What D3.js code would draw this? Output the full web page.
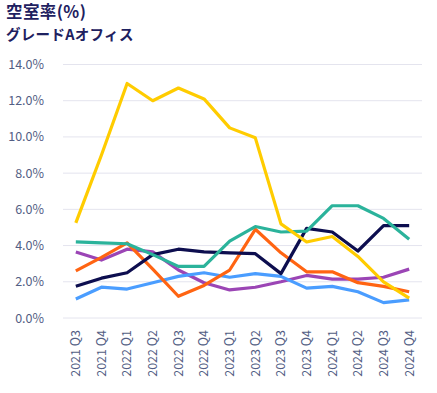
<!DOCTYPE html>
<html>
<head>
<meta charset="utf-8">
<script src="https://cdn.jsdelivr.net/npm/d3@7"></script>
<style>
  body { margin: 0; background: #fff; }
  text { font-family: "Noto Sans CJK JP", "Noto Sans", sans-serif; }
</style>
</head>
<body>
<div id="chart"></div>
<script>
const quarters = ["2021 Q3", "2021 Q4", "2022 Q1", "2022 Q2", "2022 Q3", "2022 Q4",
  "2023 Q1", "2023 Q2", "2023 Q3", "2023 Q4", "2024 Q1", "2024 Q2", "2024 Q3", "2024 Q4"];
const yTicks = [0, 2, 4, 6, 8, 10, 12, 14];

const yellowSeries = [5.25, 9.0, 12.95, 12.0, 12.7, 12.1, 10.5, 9.95, 5.2, 4.2, 4.5, 3.4, 2.0, 1.1];
const navySeries   = [1.75, 2.2, 2.5, 3.5, 3.8, 3.65, 3.6, 3.55, 2.45, 4.95, 4.75, 3.7, 5.1, 5.1];
const tealSeries   = [4.2, 4.15, 4.1, 3.5, 2.85, 2.85, 4.25, 5.05, 4.75, 4.8, 6.2, 6.2, 5.5, 4.35];
const orangeSeries = [2.6, 3.35, 4.15, 2.7, 1.2, 1.8, 2.65, 4.9, 3.6, 2.55, 2.55, 1.95, 1.75, 1.45];
const blueSeries   = [1.05, 1.7, 1.6, 1.95, 2.3, 2.5, 2.25, 2.45, 2.3, 1.65, 1.75, 1.45, 0.85, 1.0];
const purpleSeries = [3.65, 3.2, 3.8, 3.65, 2.65, 1.95, 1.55, 1.7, 2.0, 2.35, 2.15, 2.15, 2.25, 2.7];

const series = [
  { values: purpleSeries, color: "#9b45b5" },
  { values: blueSeries, color: "#4a9dff" },
  { values: orangeSeries, color: "#ff6412" },
  { values: navySeries, color: "#0d0e4f" },
  { values: tealSeries, color: "#2bb39b" },
  { values: yellowSeries, color: "#ffcc00" }
];

const width = 437, height = 393;
const margin = { top: 64, right: 15, bottom: 75, left: 63 };

const svg = d3.select("#chart").append("svg")
  .attr("width", width).attr("height", height);

svg.append("text").attr("x", 6).attr("y", 17.5)
  .attr("font-size", 16.5).attr("font-weight", "bold").attr("fill", "#1e2160")
  .attr("letter-spacing", 0.4)
  .text("空室率(%)");
svg.append("text").attr("x", 6).attr("y", 39.5)
  .attr("font-size", 14.5).attr("font-weight", "bold").attr("fill", "#1e2160")
  .attr("letter-spacing", 0.3)
  .text("グレードAオフィス");

const x = d3.scaleBand().domain(quarters)
  .range([margin.left, width - margin.right]);
const y = d3.scaleLinear().domain([0, 14])
  .range([318, 64.5]);

// grid
svg.append("g").selectAll("line")
  .data(yTicks).enter().append("line")
  .attr("x1", margin.left).attr("x2", width - margin.right)
  .attr("y1", d => y(d)).attr("y2", d => y(d))
  .attr("stroke", "#e4e4ee").attr("stroke-width", 1);

// y axis labels
const yAxis = svg.append("g")
  .attr("transform", `translate(${margin.left - 16},0)`)
  .call(d3.axisLeft(y).tickValues(yTicks).tickFormat(d => d.toFixed(1) + "%").tickSize(0));
yAxis.select(".domain").remove();
yAxis.selectAll("text").attr("font-size", 12.5).attr("fill", "#535e84")
  .attr("font-family", "'Noto Sans', sans-serif").attr("text-anchor", "end").attr("dx", 0);

// x axis labels
const xAxis = svg.append("g")
  .attr("transform", `translate(0,${330})`)
  .call(d3.axisBottom(x).tickSize(0));
xAxis.select(".domain").remove();
xAxis.selectAll("text")
  .attr("font-size", 12.5).attr("fill", "#535e84")
  .attr("font-family", "'Noto Sans', sans-serif")
  .attr("transform", "rotate(-90)")
  .attr("text-anchor", "end")
  .attr("x", 0).attr("y", 0).attr("dy", "0.35em");

const line = d3.line()
  .x((d, i) => x(quarters[i]) + x.bandwidth() / 2)
  .y(d => y(d));

svg.append("g").selectAll("path")
  .data(series).enter().append("path")
  .attr("d", d => line(d.values))
  .attr("fill", "none")
  .attr("stroke", d => d.color)
  .attr("stroke-width", 3.2)
  .attr("stroke-linejoin", "round");
</script>
</body>
</html>
